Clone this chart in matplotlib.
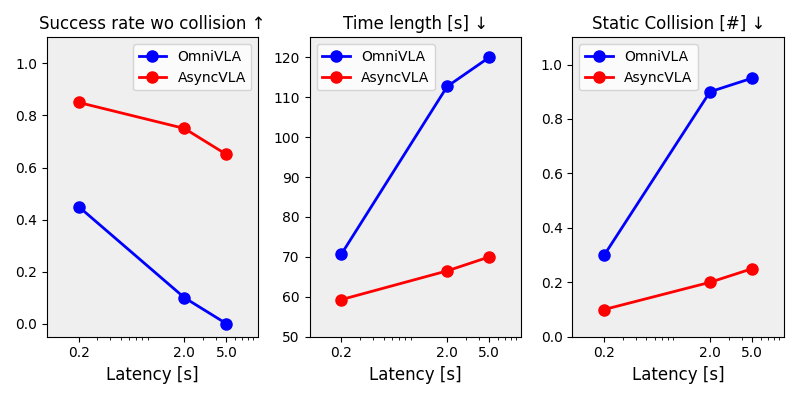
import matplotlib
matplotlib.use('Agg')
import matplotlib.pyplot as plt
from matplotlib.ticker import FixedLocator, FixedFormatter, NullFormatter

latency = [0.2, 2.0, 5.0]
tick_labels = ['0.2', '2.0', '5.0']

titles = ['Success rate wo collision ↑', 'Time length [s] ↓', 'Static Collision [#] ↓']
omni_vals = [
    [0.45, 0.10, 0.0],
    [70.7, 112.7, 120.0],
    [0.30, 0.90, 0.95],
]
async_vals = [
    [0.85, 0.75, 0.65],
    [59.3, 66.5, 70.0],
    [0.10, 0.20, 0.25],
]
ylims = [(-0.05, 1.1), (50, 125), (0.0, 1.1)]
legend_locs = ['upper right', 'upper left', 'upper left']

fig, axes = plt.subplots(1, 3, figsize=(7.99, 3.99), dpi=100)

for i, ax in enumerate(axes):
    ax.set_facecolor('#efefef')
    ax.plot(latency, omni_vals[i], '-o', color='blue', linewidth=2, markersize=8, label='OmniVLA')
    ax.plot(latency, async_vals[i], '-o', color='red', linewidth=2, markersize=8, label='AsyncVLA')
    ax.set_xscale('log')
    ax.set_xlim(0.1, 10)
    ax.xaxis.set_major_locator(FixedLocator(latency))
    ax.xaxis.set_major_formatter(FixedFormatter(tick_labels))
    ax.xaxis.set_minor_formatter(NullFormatter())
    ax.set_ylim(*ylims[i])
    ax.set_title(titles[i], fontsize=12)
    ax.set_xlabel('Latency [s]', fontsize=12)
    ax.legend(loc=legend_locs[i])

plt.tight_layout()
plt.savefig('out.png', dpi=100)
